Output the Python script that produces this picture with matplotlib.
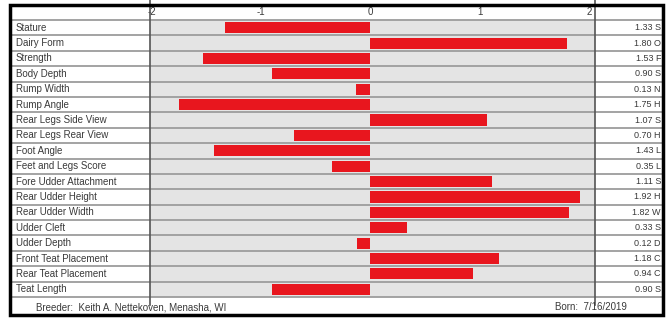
import numpy as np
import matplotlib.pyplot as plt
from matplotlib.patches import Rectangle
from matplotlib.transforms import blended_transform_factory

plt.rcParams['font.family'] = ['Liberation Sans', 'DejaVu Sans']

traits = ["Stature", "Dairy Form", "Strength", "Body Depth", "Rump Width",
          "Rump Angle", "Rear Legs Side View", "Rear Legs Rear View",
          "Foot Angle", "Feet and Legs Score", "Fore Udder Attachment",
          "Rear Udder Height", "Rear Udder Width", "Udder Cleft",
          "Udder Depth", "Front Teat Placement", "Rear Teat Placement",
          "Teat Length"]
values = [-1.33, 1.80, -1.53, -0.90, -0.13, -1.75, 1.07, -0.70, -1.43,
          -0.35, 1.11, 1.92, 1.82, 0.33, -0.12, 1.18, 0.94, -0.90]
codes = ["S", "O", "F", "S", "N", "H", "S", "H", "L",
         "L", "S", "H", "W", "S", "D", "C", "C", "S"]
ticks = [-2, -1, 0, 1, 2]
breeder = "Breeder:  Keith A. Nettekoven, Menasha, WI"
born = "Born:  7/16/2019"

W, H = 672, 320
fig = plt.figure(figsize=(W / 100, H / 100), dpi=100)

# plot area in pixels
x0, x1 = 150, 595
y0, y1 = 20, 297
ax = fig.add_axes([x0 / W, 1 - y1 / H, (x1 - x0) / W, (y1 - y0) / H])
ax.set_facecolor("#e4e4e4")

n = len(traits)
ax.set_ylim(n, 0)
ax.set_xlim(-2.018, 2.055)

ypos = np.arange(n) + 0.5
ax.barh(ypos, values, height=0.72, color="#e8161e", zorder=3)

def fx(px):
    return (px - x0) / (x1 - x0)

trans = blended_transform_factory(ax.transAxes, ax.transData)
for i in range(n + 1):
    ax.plot([fx(12), fx(664)], [i, i], transform=trans, color="#9c9c9c",
            lw=1.3, clip_on=False, zorder=4)

for i, t in enumerate(traits):
    ax.text(fx(16), ypos[i], t, transform=trans, ha="left", va="center",
            fontsize=7, color="#3a3a3a")
    ax.text(fx(661), ypos[i], "%.2f %s" % (abs(values[i]), codes[i]),
            transform=trans, ha="right", va="center", fontsize=6.5,
            color="#3a3a3a")

# vertical dividers
for px in (x0, x1):
    ax.plot([fx(px), fx(px)], [1.2, -0.03], transform=ax.transAxes,
            color="#555555", lw=1.2, clip_on=False, zorder=5)

ax.set_xticks(ticks)
ax.set_xticklabels([str(t) for t in ticks])
ax.xaxis.tick_top()
ax.tick_params(axis="x", length=0, pad=2, labelsize=7, labelcolor="#3a3a3a")
ax.set_yticks([])
for s in ax.spines.values():
    s.set_visible(False)

fig.text(36 / W, 1 - 307 / H, breeder, ha="left", va="center",
         fontsize=7, color="#3a3a3a")
fig.text(555 / W, 1 - 307 / H, born, ha="left", va="center",
         fontsize=7, color="#3a3a3a")

# outer border
fig.patches.append(Rectangle((10 / W, 1 - 315 / H), 653 / W, 310 / H,
                             transform=fig.transFigure, fill=False,
                             edgecolor="black", lw=2.5))

fig.savefig("out.png", dpi=100)
